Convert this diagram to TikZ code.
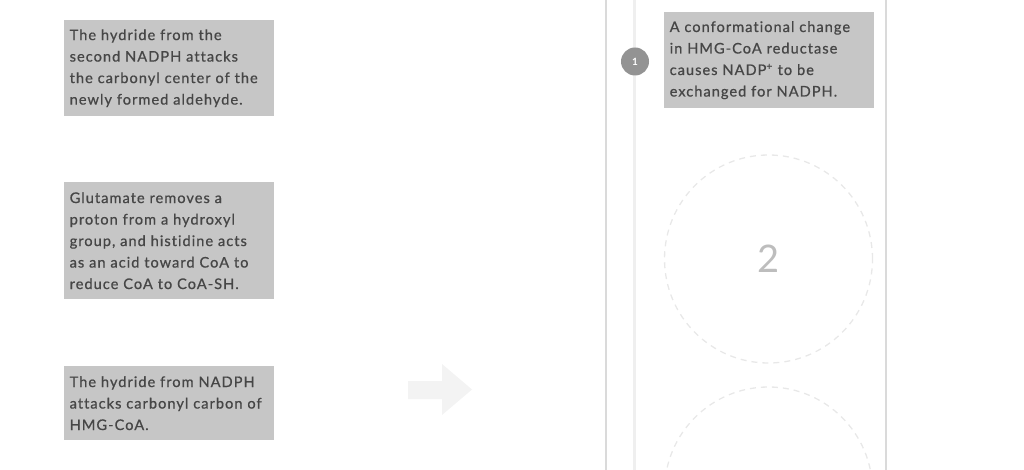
\documentclass[tikz,border=0pt]{standalone}
\usepackage{fontspec}
\setmainfont{Lato}
\begin{document}
\begin{tikzpicture}[x=1pt,y=-1pt,
  infobox/.style={fill=boxgray, text=txtgray, anchor=north west, minimum width=210pt,
    text width=199pt, inner xsep=5.5pt, inner ysep=0pt, align=left,
    font=\fontsize{14.6}{21.5}\selectfont\addfontfeature{LetterSpace=7,FakeBold=0.7,Ligatures=NoCommon}},
  stepdot/.style={circle, fill=dotgray, minimum size=28pt, inner sep=0pt, text=white,
    font=\fontsize{10}{10}\selectfont\bfseries},
  placeholder/.style={circle, draw=dashgray, line width=1.3pt, dash pattern=on 6pt off 5pt,
    minimum size=208pt, inner sep=0pt, text=numgray, font=\fontsize{38}{40}\selectfont}]
\definecolor{boxgray}{HTML}{C6C6C6}
\definecolor{txtgray}{HTML}{464646}
\definecolor{dotgray}{HTML}{939393}
\definecolor{dashgray}{HTML}{E8E8E8}
\definecolor{numgray}{HTML}{BDBDBD}
\definecolor{linegray}{HTML}{DADADA}
\definecolor{timegray}{HTML}{EFEFEF}
\definecolor{arrowgray}{HTML}{F3F3F3}
\useasboundingbox (0,0) rectangle (1024,470);
\clip (0,0) rectangle (1024,470);
% panel lines
\draw[linegray, line width=1.2pt] (606,0) -- (606,470);
\draw[linegray, line width=1.2pt] (886,0) -- (886,470);
\draw[timegray, line width=3pt] (634,0) -- (634,470);
% left boxes
\node[infobox, minimum height=96pt] (boxa) at (64,20) {The hydride from the\\second NADPH attacks\\the carbonyl center of the\\newly formed aldehyde.};
\node[infobox, minimum height=117pt] (boxb) at (64,182) {Glutamate removes a\\proton from a hydroxyl\\group, and histidine acts\\as an acid toward CoA to\\reduce CoA to CoA-SH.};
\node[infobox, minimum height=74pt] (boxc) at (64,366) {The hydride from NADPH\\attacks carbonyl carbon of\\HMG-CoA.};
% arrow
\fill[arrowgray] (408,381) -- (442,381) -- (442,364) -- (472,389.5) -- (442,415) -- (442,399) -- (408,399) -- cycle;
% right step
\node[stepdot] (s1) at (635,61.5) {1};
\node[infobox, minimum height=96pt] (box1) at (664,12) {A conformational change\\in HMG-CoA reductase\\causes NADP\textsuperscript{+} to be\\exchanged for NADPH.};
\node[placeholder] (c2) at (768.5,259) {\raisebox{-3pt}{2}};
\node[placeholder] (c3) at (768.5,491) {};
\end{tikzpicture}
\end{document}
